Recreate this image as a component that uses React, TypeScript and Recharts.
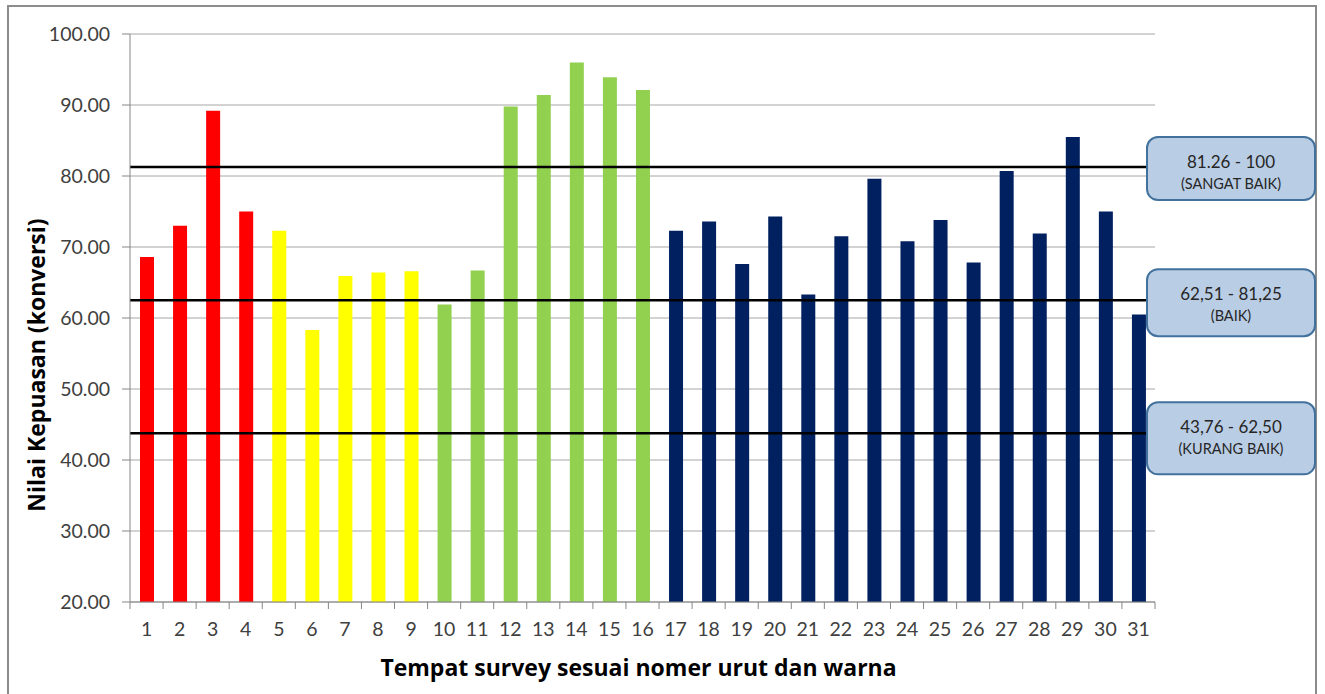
import React from 'react';
import {
  ComposedChart,
  Bar,
  Cell,
  XAxis,
  YAxis,
  CartesianGrid,
  ReferenceLine,
} from 'recharts';

// Survey sites, numbered 1..31
const siteLabels = [
  '1', '2', '3', '4', '5', '6', '7', '8', '9', '10', '11', '12', '13', '14', '15', '16',
  '17', '18', '19', '20', '21', '22', '23', '24', '25', '26', '27', '28', '29', '30', '31',
];

// Converted satisfaction score per site
const satisfactionScores = [
  68.6, 73.0, 89.2, 75.0, 72.3, 58.3, 65.9, 66.4, 66.6, 61.9, 66.7, 89.8, 91.4, 96.0, 93.9, 92.1,
  72.3, 73.6, 67.6, 74.3, 63.3, 71.5, 79.6, 70.8, 73.8, 67.8, 80.7, 71.9, 85.5, 75.0, 60.5,
];

// Colour group of each site (see groupPalette)
const siteGroups = [
  'red', 'red', 'red', 'red',
  'yellow', 'yellow', 'yellow', 'yellow', 'yellow',
  'green', 'green', 'green', 'green', 'green', 'green', 'green',
  'navy', 'navy', 'navy', 'navy', 'navy', 'navy', 'navy', 'navy', 'navy', 'navy', 'navy', 'navy', 'navy', 'navy', 'navy',
];

// Y axis ticks
const yTicks = [20, 30, 40, 50, 60, 70, 80, 90, 100];

// Category thresholds and their callouts
const thresholdValues = [81.26, 62.51, 43.76];
const thresholdRanges = ['81.26  - 100', '62,51  - 81,25', '43,76  - 62,50'];
const thresholdNames = ['(SANGAT BAIK)', '(BAIK)', '(KURANG BAIK)'];

const groupPalette: Record<string, string> = {
  red: '#FF0000',
  yellow: '#FFFF00',
  green: '#92D050',
  navy: '#002060',
};

const FONT = "Lato, 'Noto Sans', 'Liberation Sans', sans-serif";
const TITLE_FONT = "'Open Sans', 'Noto Sans', sans-serif";
const AXIS_GREY = '#868686';
const TEXT_GREY = '#404040';

const chartData = siteLabels.map((site, i) => ({
  site,
  score: satisfactionScores[i],
  group: siteGroups[i],
}));

// Callout box geometry relative to its threshold line
const calloutShape = [
  { dy: -30, h: 63 },
  { dy: -31, h: 67 },
  { dy: -31, h: 72 },
];

function SiteTick(props: any) {
  const { x, y, payload } = props;
  const half = typeof payload?.offset === 'number' && payload.offset > 0 ? payload.offset : 1025 / 31 / 2;
  const isLast = payload?.value === siteLabels[siteLabels.length - 1];
  return (
    <g>
      <line x1={x - half} x2={x - half} y1={y} y2={y + 7} stroke={AXIS_GREY} strokeWidth={1} />
      {isLast && <line x1={x + half} x2={x + half} y1={y} y2={y + 7} stroke={AXIS_GREY} strokeWidth={1} />}
      <text x={x} y={y + 34} textAnchor="middle" fontSize={19.5} fill={TEXT_GREY} fontFamily={FONT}>
        {payload.value}
      </text>
    </g>
  );
}

function makeCallout(i: number) {
  return (props: any) => {
    const vb = props.viewBox || {};
    const right = (vb.x ?? 130) + (vb.width ?? 1025);
    const lineY = vb.y ?? 0;
    const bx = right - 8;
    const bw = 168;
    const by = lineY + calloutShape[i].dy;
    const bh = calloutShape[i].h;
    const cx = bx + bw / 2;
    return (
      <g>
        <rect x={bx} y={by} width={bw} height={bh} rx={11} ry={11} fill="#B9CDE5" stroke="#41719C" strokeWidth={2} />
        <text x={cx} y={by + 24} textAnchor="middle" dominantBaseline="central" fontSize={17} fill="#262626" fontFamily={FONT}>
          {thresholdRanges[i]}
        </text>
        <text x={cx} y={by + 46} textAnchor="middle" dominantBaseline="central" fontSize={14.5} fill="#262626" fontFamily={FONT}>
          {thresholdNames[i]}
        </text>
      </g>
    );
  };
}

function XTitle(props: any) {
  const vb = props.viewBox || { x: 130, y: 602, width: 1025, height: 40 };
  return (
    <text
      x={vb.x + vb.width / 2 - 4}
      y={vb.y + 74}
      textAnchor="middle"
      fontSize={23}
      fontWeight={700}
      fill="#000"
      fontFamily={TITLE_FONT}
    >
      Tempat survey sesuai nomer urut dan warna
    </text>
  );
}

function YTitle(props: any) {
  const vb = props.viewBox || { x: 0, y: 34, width: 130, height: 568 };
  const cx = 36;
  const cy = vb.y + vb.height / 2 + 47;
  return (
    <text
      x={cx}
      y={cy}
      transform={`rotate(-90, ${cx}, ${cy})`}
      textAnchor="middle"
      dominantBaseline="central"
      fontSize={23}
      fontWeight={700}
      fill="#000"
      fontFamily={TITLE_FONT}
    >
      Nilai Kepuasan (konversi)
    </text>
  );
}

export default function App() {
  return (
    <div style={{ position: 'absolute', left: 0, top: 0, width: 1325, height: 694, overflow: 'hidden', background: '#fff' }}>
      <div
        style={{
          position: 'absolute',
          left: 7,
          top: 5,
          width: 1310,
          height: 720,
          border: '2px solid #8c8c8c',
          boxSizing: 'border-box',
        }}
      />
      <div style={{ position: 'absolute', left: 0, top: 0 }}>
        <ComposedChart
          width={1325}
          height={694}
          data={chartData}
          margin={{ top: 34, right: 170, bottom: 52, left: 0 }}
        >
          <CartesianGrid horizontal vertical={false} stroke="#A6A6A6" strokeWidth={1} />
          <XAxis
            dataKey="site"
            type="category"
            height={40}
            tickLine={false}
            tickSize={0}
            tickMargin={0}
            axisLine={{ stroke: AXIS_GREY, strokeWidth: 1 }}
            tick={<SiteTick />}
            interval={0}
            label={{ content: <XTitle /> }}
          />
          <YAxis
            type="number"
            domain={[20, 100]}
            ticks={yTicks}
            width={130}
            tickSize={8}
            tickMargin={12}
            tickFormatter={(v: number) => v.toFixed(2)}
            axisLine={{ stroke: AXIS_GREY, strokeWidth: 1 }}
            tickLine={{ stroke: AXIS_GREY, strokeWidth: 1 }}
            tick={{ fontSize: 19.5, fill: TEXT_GREY, fontFamily: FONT }}
            label={{ content: <YTitle /> }}
            allowDataOverflow
          />
          <Bar dataKey="score" barSize={14} isAnimationActive={false}>
            {chartData.map((d, i) => (
              <Cell key={i} fill={groupPalette[d.group]} />
            ))}
          </Bar>
          {thresholdValues.map((v, i) => (
            <ReferenceLine
              key={i}
              y={v}
              stroke="#000"
              strokeWidth={2.5}
              label={{ content: makeCallout(i) }}
            />
          ))}
        </ComposedChart>
      </div>
    </div>
  );
}
